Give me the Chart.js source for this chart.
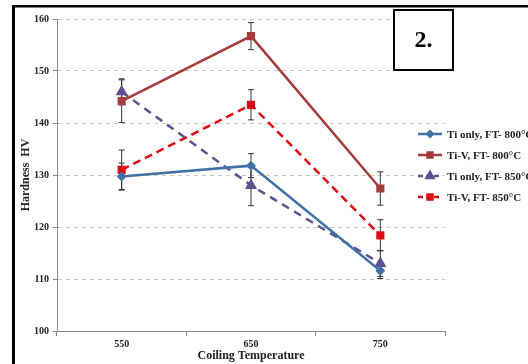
<!DOCTYPE html>
<html>
<head>
<meta charset="utf-8">
<title>Hardness vs Coiling Temperature</title>
<script src="https://cdn.jsdelivr.net/npm/chart.js@4.4.1/dist/chart.umd.min.js"></script>
<style>
  html, body { margin: 0; padding: 0; background: #fff; overflow: hidden; }
  #wrap { position: relative; width: 528px; height: 364px; }
</style>
</head>
<body>
<div id="wrap"><canvas id="hardnessChart" width="528" height="364"></canvas></div>
<script>
// coiling temperatures (categories)
const temps = ['550', '650', '750'];

// hardness HV
const tiOnly800 = [129.7, 131.8, 111.6];
const tiV800 = [144.2, 156.7, 127.4];
const tiOnly850 = [146.0, 128.0, 113.0];
const tiV850 = [131.0, 143.5, 118.4];

// error bar half-widths
const tiOnly800Err = [2.6, 2.3, 1.5];
const tiV800Err = [4.1, 2.6, 3.2];
const tiOnly850Err = [2.5, 3.9, 2.5];
const tiV850Err = [3.8, 2.9, 3.0];

const seriesNames = ['Ti only, FT- 800°C', 'Ti-V, FT- 800°C', 'Ti only, FT- 850°C', 'Ti-V, FT- 850°C'];
const yTicks = [100, 110, 120, 130, 140, 150, 160];

const serif = '"Liberation Serif", "Times New Roman", serif';

// error bars drawn through the y scale
const errorBars = {
  id: 'errorBars',
  beforeDatasetsDraw(chart) {
    const { ctx, scales: { y } } = chart;
    ctx.save();
    ctx.strokeStyle = '#333';
    ctx.lineWidth = 1;
    chart.data.datasets.forEach((ds, i) => {
      const meta = chart.getDatasetMeta(i);
      meta.data.forEach((pt, j) => {
        const e = ds.errors[j];
        const top = y.getPixelForValue(ds.data[j] + e);
        const bot = y.getPixelForValue(ds.data[j] - e);
        ctx.beginPath();
        ctx.moveTo(pt.x, top); ctx.lineTo(pt.x, bot);
        ctx.moveTo(pt.x - 3, top); ctx.lineTo(pt.x + 3, top);
        ctx.moveTo(pt.x - 3, bot); ctx.lineTo(pt.x + 3, bot);
        ctx.stroke();
      });
    });
    ctx.restore();
  }
};

// frame, "2." box and the legend on the right
const decorations = {
  id: 'decorations',
  beforeDraw(chart) {
    const ctx = chart.ctx;
    ctx.save();
    ctx.fillStyle = '#fff';
    ctx.fillRect(0, 0, chart.width, chart.height);
    ctx.fillStyle = '#000';
    ctx.fillRect(12, 5, 3, chart.height);
    ctx.fillRect(12, 5, chart.width, 2.5);
    ctx.restore();
  },
  afterDraw(chart) {
    const ctx = chart.ctx;
    ctx.save();
    // numbered box
    ctx.fillStyle = '#fff';
    ctx.fillRect(393, 9, 61, 62);
    ctx.strokeStyle = '#000';
    ctx.lineWidth = 2;
    ctx.strokeRect(394, 10, 59, 60);
    ctx.fillStyle = '#000';
    ctx.font = 'bold 24px ' + serif;
    ctx.textAlign = 'center';
    ctx.textBaseline = 'middle';
    ctx.fillText('2.', 423.5, 41);

    // legend
    ctx.font = 'bold 11px ' + serif;
    ctx.textAlign = 'left';
    chart.data.datasets.forEach((ds, i) => {
      const yy = 134 + i * 21;
      ctx.strokeStyle = ds.borderColor;
      ctx.lineWidth = 2.5;
      ctx.setLineDash(ds.borderDash.length ? [5, 3] : []);
      ctx.beginPath();
      ctx.moveTo(418, yy); ctx.lineTo(442, yy);
      ctx.stroke();
      ctx.setLineDash([]);
      ctx.fillStyle = ds.pointBackgroundColor;
      ctx.strokeStyle = ds.pointBackgroundColor;
      Chart.helpers.drawPoint(ctx, {
        pointStyle: ds.pointStyle, radius: ds.pointRadius - 0.5, borderWidth: 1
      }, 430, yy);
      ctx.fillStyle = '#222';
      ctx.fillText(ds.label, 447, yy + 1);
    });
    ctx.restore();
  }
};

function series(label, data, errors, color, style, radius, dash) {
  return {
    label, data, errors,
    borderColor: color,
    backgroundColor: color,
    pointBackgroundColor: color,
    pointBorderColor: color,
    pointStyle: style,
    pointRadius: radius,
    pointHoverRadius: radius,
    borderWidth: 2.5,
    borderDash: dash,
    tension: 0,
    fill: false
  };
}

new Chart(document.getElementById('hardnessChart'), {
  type: 'line',
  data: {
    labels: temps,
    datasets: [
      series(seriesNames[0], tiOnly800, tiOnly800Err, '#4170a8', 'rectRot', 3.2, []),
      series(seriesNames[1], tiV800, tiV800Err, '#a33c3a', 'rect', 4, []),
      series(seriesNames[2], tiOnly850, tiOnly850Err, '#5f5090', 'triangle', 4.5, [8, 6]),
      series(seriesNames[3], tiV850, tiV850Err, '#dd0a12', 'rect', 4, [8, 5])
    ]
  },
  options: {
    responsive: false,
    animation: false,
    devicePixelRatio: 1,
    layout: { padding: { left: 0, top: 19, right: 83, bottom: 0 } },
    plugins: { legend: { display: false }, tooltip: { enabled: false } },
    scales: {
      x: {
        offset: true,
        grid: { offset: true, drawOnChartArea: false, color: '#888', tickLength: 5 },
        border: { color: '#888', width: 1 },
        ticks: { color: '#222', padding: 2, font: { family: serif, size: 10, weight: 'bold' } },
        title: {
          display: true, text: 'Coiling Temperature', color: '#222',
          font: { family: serif, size: 12, weight: 'bold' }, padding: { top: 0, bottom: 1 }
        },
        afterFit(scale) { scale.height = 33; }
      },
      y: {
        min: 100, max: 160,
        afterBuildTicks(scale) { scale.ticks = yTicks.map(v => ({ value: v })); },
        grid: { color: '#c8c8c8', tickColor: '#888', tickLength: 4, lineWidth: 1 },
        border: { color: '#888', width: 1, dash: [4, 4] },
        ticks: { color: '#222', padding: 4, font: { family: serif, size: 10, weight: 'bold' } },
        title: {
          display: true, text: 'Hardness  HV', color: '#222',
          font: { family: serif, size: 12, weight: 'bold' }, padding: { top: 19, bottom: 0 }
        },
        afterFit(scale) { scale.width = 57; }
      }
    }
  },
  plugins: [errorBars, decorations]
});
</script>
</body>
</html>
